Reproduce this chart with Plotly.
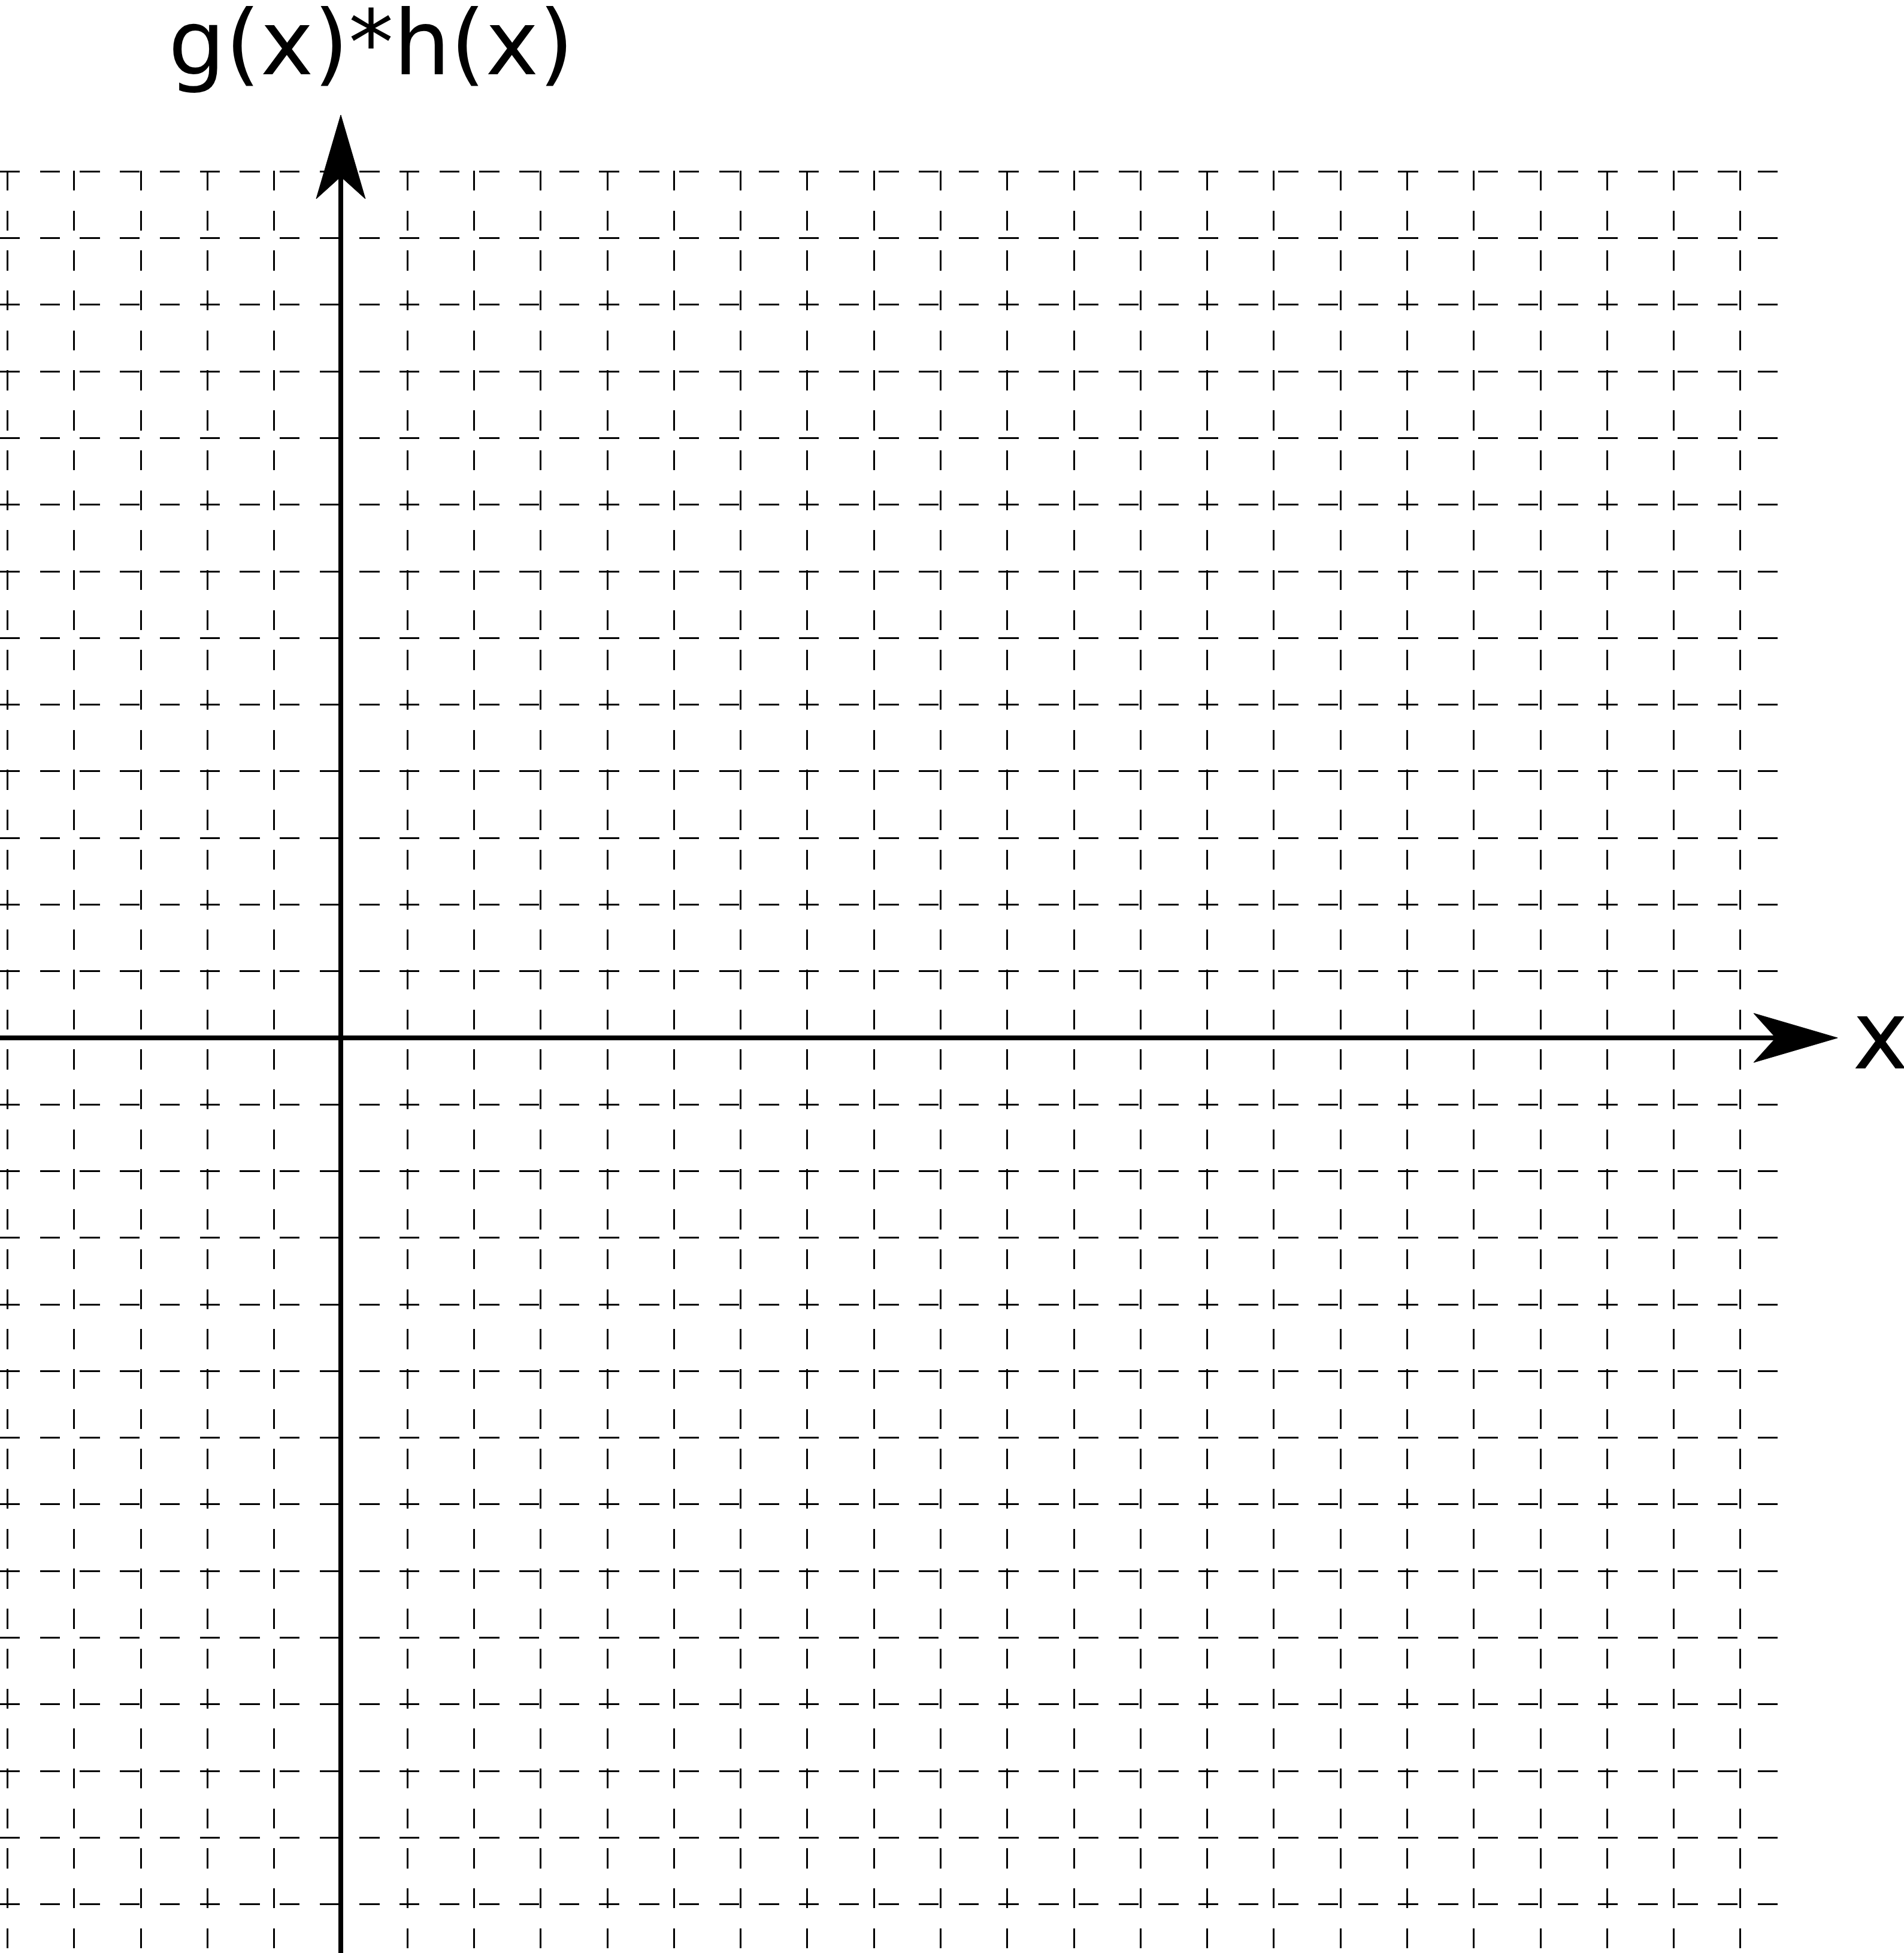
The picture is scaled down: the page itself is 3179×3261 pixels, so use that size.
import plotly.graph_objects as go

# ---- chart content -------------------------------------------------------
title_text = "g(x)*h(x)"          # vertical-axis label
x_label = "x"                     # horizontal-axis label
x_grid = list(range(-5, 22))      # vertical dashed grid lines (x units)
y_grid = list(range(-13, 14))     # horizontal dashed grid lines (y units)

# ---- geometry (pixels) ----------------------------------------------------
W, H = 3179, 3261
UNIT = 111.28            # pixels per grid unit
X0_PX = 569.0            # pixel column of x = 0
Y0_PX = 1733.0           # pixel row of y = 0
PLOT_L, PLOT_R, PLOT_T, PLOT_B = 0, 2970, 285, H

x_range = [(PLOT_L - X0_PX) / UNIT, (PLOT_R - X0_PX) / UNIT]
y_range = [(Y0_PX - PLOT_B) / UNIT, (Y0_PX - PLOT_T) / UNIT]


def px_to_paper(px, py):
    # margins are zero, so paper coordinates span the whole figure
    return (px / W, (H - py) / H)


def data_to_px(x, y):
    return (X0_PX + x * UNIT, Y0_PX - y * UNIT)


# axis arrow tips (data units) and arrowhead size (px)
x_tip = (3068 - X0_PX) / UNIT
y_tip = (Y0_PX - 192) / UNIT
HEAD_LEN, HEAD_HALF, HEAD_NOTCH = 140, 41, 103


def path_from_px(points):
    parts = []
    for i, (px, py) in enumerate(points):
        u, v = px_to_paper(px, py)
        parts.append(("M" if i == 0 else "L") + f"{u:.6f},{v:.6f}")
    return " ".join(parts) + " Z"


tx, ty = data_to_px(x_tip, 0)
x_head = path_from_px([(tx, ty), (tx - HEAD_LEN, ty - HEAD_HALF),
                       (tx - HEAD_NOTCH, ty), (tx - HEAD_LEN, ty + HEAD_HALF)])
ux, uy = data_to_px(0, y_tip)
y_head = path_from_px([(ux, uy), (ux - HEAD_HALF, uy + HEAD_LEN),
                       (ux, uy + HEAD_NOTCH), (ux + HEAD_HALF, uy + HEAD_LEN)])

fig = go.Figure()
fig.add_trace(go.Scatter(x=[], y=[], showlegend=False, hoverinfo="skip"))

grid_style = dict(showgrid=True, gridcolor="black", gridwidth=3,
                  griddash="33.35px,33.35px",
                  zeroline=True, zerolinecolor="black", zerolinewidth=8,
                  showticklabels=False, ticks="", showline=False,
                  tickmode="array", fixedrange=True)

fig.update_layout(
    width=W, height=H,
    margin=dict(l=0, r=0, t=0, b=0, pad=0),
    paper_bgcolor="white", plot_bgcolor="white",
    showlegend=False,
    xaxis=dict(range=x_range, domain=[0, (PLOT_R - PLOT_L) / W],
               tickvals=x_grid, **grid_style),
    yaxis=dict(range=y_range, domain=[0, (PLOT_B - PLOT_T) / H],
               tickvals=y_grid, **grid_style),
    shapes=[
        dict(type="path", xref="paper", yref="paper", path=x_head,
             fillcolor="black", line=dict(color="black", width=1), layer="above"),
        dict(type="path", xref="paper", yref="paper", path=y_head,
             fillcolor="black", line=dict(color="black", width=1), layer="above"),
    ],
)

tu, tv = px_to_paper(619, 72)
lu, lv = px_to_paper(3140, 1729)
fig.add_annotation(text=title_text, xref="paper", yref="paper", x=tu, y=tv,
                   xanchor="center", yanchor="middle", showarrow=False,
                   font=dict(family="DejaVu Sans", size=150, color="black"))
fig.add_annotation(text=x_label, xref="paper", yref="paper", x=lu, y=lv,
                   xanchor="center", yanchor="middle", showarrow=False,
                   font=dict(family="DejaVu Sans", size=158, color="black"))

fig.write_html("out.html", config={"displayModeBar": False},
               post_script="document.body.style.margin='0px';")
